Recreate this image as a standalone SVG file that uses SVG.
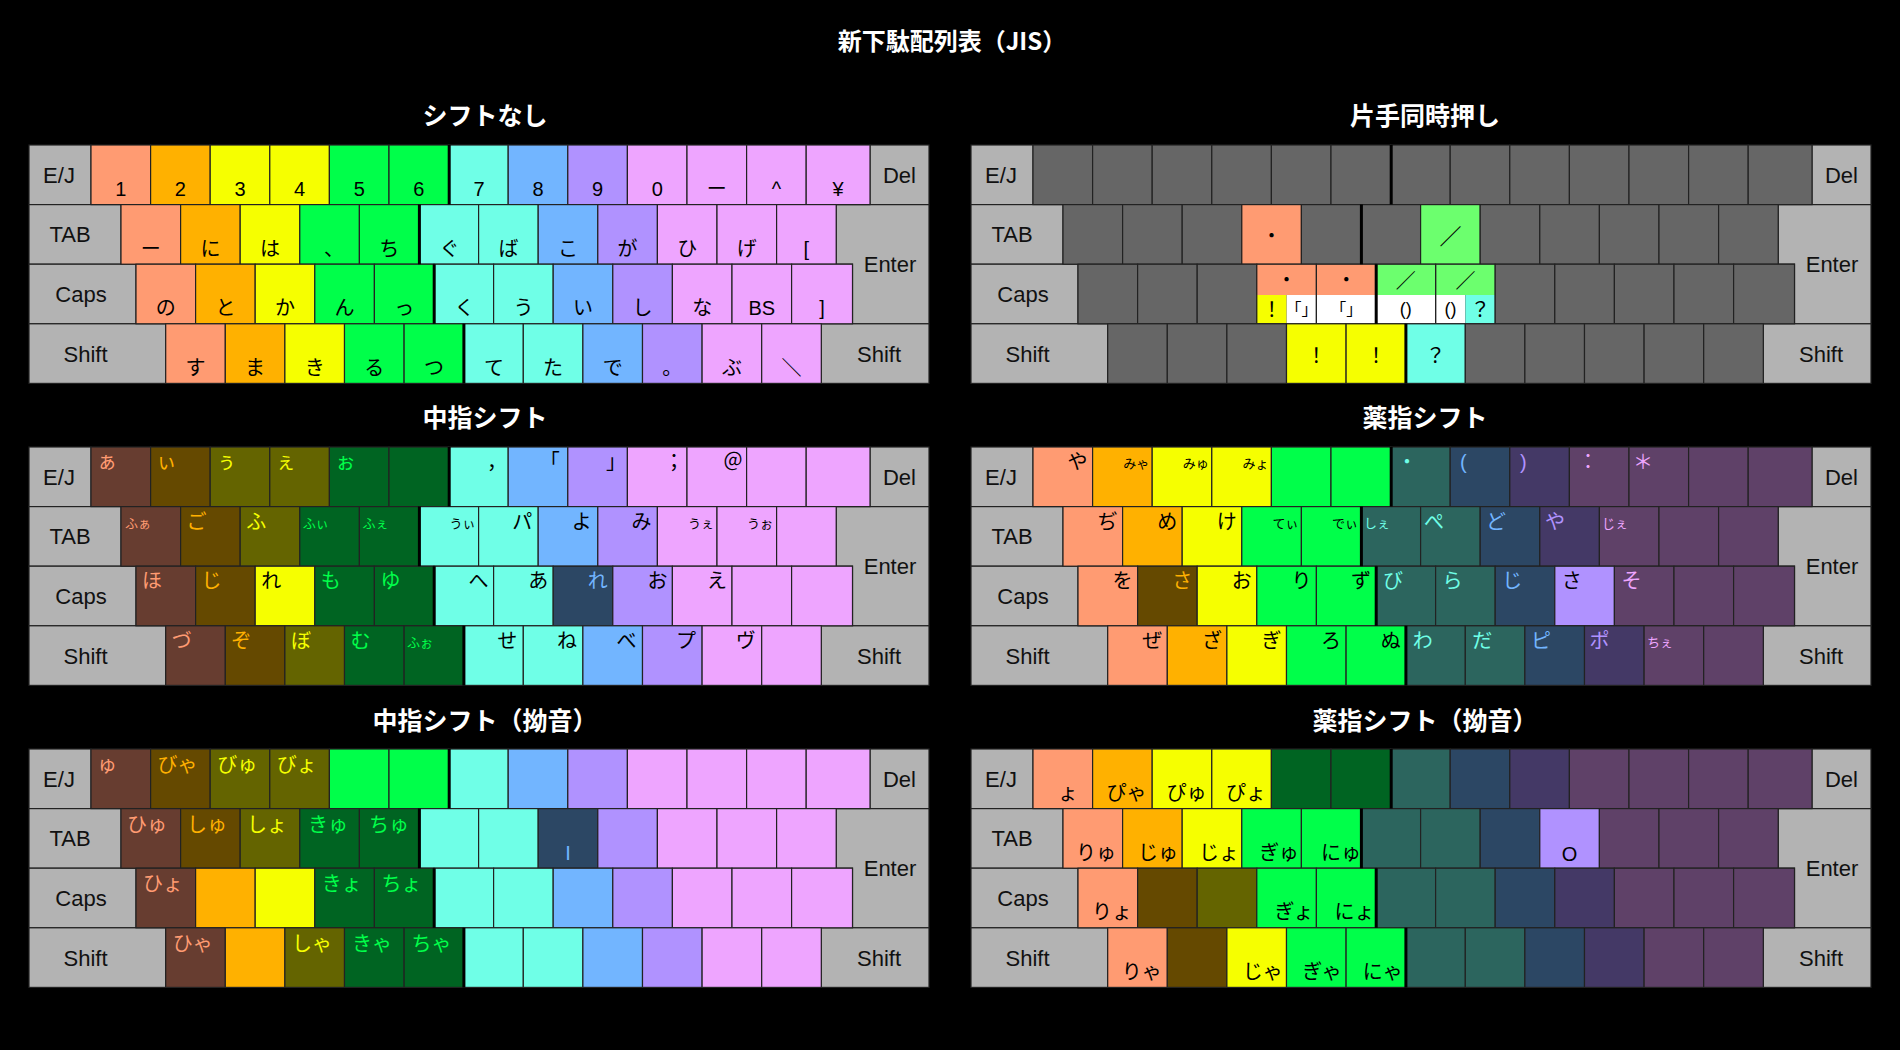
<svg xmlns="http://www.w3.org/2000/svg" xmlns:xlink="http://www.w3.org/1999/xlink" width="1900" height="1050" viewBox="0 0 1900 1050">
<style>
text{font-family:"Liberation Sans","Noto Sans CJK JP",sans-serif;font-size:20px;fill:#000}
.ml{font-size:22px;text-anchor:middle;fill:#111}
.m{text-anchor:middle}
.e{text-anchor:end}
.sm{font-size:13px}
.f16{font-size:16px}
.f18{font-size:18px}
.f22{font-size:22px}
.h{font-family:"Noto Sans CJK JP",sans-serif;font-weight:700;font-size:25px;fill:#fff;text-anchor:middle}
.ti{font-size:24px}
.md{fill:#b3b3b3}
.fs{fill:#ff9b72}.fo{fill:#ffb100}.fy{fill:#f6ff00}.fg{fill:#00ff4a}.fc{fill:#6fffe7}.fb{fill:#72b5ff}.fp{fill:#b092ff}.fk{fill:#eea5ff}
.ds{fill:#673d30}.do{fill:#654900}.dy{fill:#646400}.dg{fill:#006422}.dc{fill:#2c655e}.db{fill:#2c4764}.dp{fill:#443966}.dk{fill:#5f4168}
.gr{fill:#666666}.lg{fill:#6cff6e}.wh{fill:#ffffff}.nf{fill:none}
</style>
<defs>
<rect id="u" width="59.6" height="59.6" stroke="#222" stroke-width="1.2"/>
<rect id="yen" width="63.8" height="59.6" stroke="#222" stroke-width="1.2"/>
<rect id="rb" width="60.9" height="59.6" stroke="#222" stroke-width="1.2"/>
<g id="modk" fill="#b3b3b3" stroke="#222" stroke-width="1.2">
<rect width="62" height="59.6"/>
<rect x="841" width="59" height="59.6"/>
<rect y="59.6" width="92" height="59.6"/>
<path d="M807.2,59.6H900V178.8H823.5V119.2H807.2Z"/>
<rect y="119.2" width="107" height="59.6"/>
<rect y="178.8" width="136.7" height="59.6"/>
<rect x="792.3" y="178.8" width="107.7" height="59.6"/>
</g>
<path id="sep" d="M420.2 0V59.6M390.4 59.6V119.2M405.2 119.2V178.8M434.9 178.8V238.4" stroke="#000" stroke-width="3" fill="none"/>
</defs>
<rect width="1900" height="1050" fill="#000"/>
<text class="h ti" x="952" y="50">新下駄配列表（JIS）</text>
<text class="h" x="485" y="124.5">シフトなし</text>
<text class="h" x="1425" y="124.5">片手同時押し</text>
<text class="h" x="485" y="426.5">中指シフト</text>
<text class="h" x="1425" y="426.5">薬指シフト</text>
<text class="h" x="485" y="729.5">中指シフト（拗音）</text>
<text class="h" x="1425" y="729.5">薬指シフト（拗音）</text>

<!-- Keyboard 1: シフトなし -->
<g id="kb-noshift" transform="translate(29,145)">
<use href="#modk"/>
<g>
<use href="#u" x="62" class="fs"/><use href="#u" x="121.6" class="fo"/><use href="#u" x="181.2" class="fy"/><use href="#u" x="240.8" class="fy"/><use href="#u" x="300.4" class="fg"/><use href="#u" x="360" class="fg"/><use href="#u" x="419.6" class="fc"/><use href="#u" x="479.2" class="fb"/><use href="#u" x="538.8" class="fp"/><use href="#u" x="598.4" class="fk"/><use href="#u" x="658" class="fk"/><use href="#u" x="717.6" class="fk"/><use href="#yen" x="777.2" class="fk"/>
</g>
<g transform="translate(0,59.6)">
<use href="#u" x="92" class="fs"/><use href="#u" x="151.6" class="fo"/><use href="#u" x="211.2" class="fy"/><use href="#u" x="270.8" class="fg"/><use href="#u" x="330.4" class="fg"/><use href="#u" x="390" class="fc"/><use href="#u" x="449.6" class="fc"/><use href="#u" x="509.2" class="fb"/><use href="#u" x="568.8" class="fp"/><use href="#u" x="628.4" class="fk"/><use href="#u" x="688" class="fk"/><use href="#u" x="747.6" class="fk"/>
</g>
<g transform="translate(0,119.2)">
<use href="#u" x="107" class="fs"/><use href="#u" x="166.6" class="fo"/><use href="#u" x="226.2" class="fy"/><use href="#u" x="285.8" class="fg"/><use href="#u" x="345.4" class="fg"/><use href="#u" x="405" class="fc"/><use href="#u" x="464.6" class="fc"/><use href="#u" x="524.2" class="fb"/><use href="#u" x="583.8" class="fp"/><use href="#u" x="643.4" class="fk"/><use href="#u" x="703" class="fk"/><use href="#rb" x="762.6" class="fk"/>
</g>
<g transform="translate(0,178.8)">
<use href="#u" x="136.7" class="fs"/><use href="#u" x="196.3" class="fo"/><use href="#u" x="255.9" class="fy"/><use href="#u" x="315.5" class="fg"/><use href="#u" x="375.1" class="fg"/><use href="#u" x="434.7" class="fc"/><use href="#u" x="494.3" class="fc"/><use href="#u" x="553.9" class="fb"/><use href="#u" x="613.5" class="fp"/><use href="#u" x="673.1" class="fk"/><use href="#u" x="732.7" class="fk"/>
</g>
<use href="#sep"/>
<text class="ml" x="30" y="37.8">E/J</text><text class="ml" x="870.5" y="37.8">Del</text><text class="ml" x="41" y="97.4">TAB</text><text class="ml" x="861" y="127.2">Enter</text><text class="ml" x="52" y="157">Caps</text><text class="ml" x="56.5" y="216.6">Shift</text><text class="ml" x="850" y="216.6">Shift</text>
<text class="m" x="91.8" y="51">1</text><text class="m" x="151.4" y="51">2</text><text class="m" x="211" y="51">3</text><text class="m" x="270.6" y="51">4</text><text class="m" x="330.2" y="51">5</text><text class="m" x="389.8" y="51">6</text><text class="m" x="450" y="51">7</text><text class="m" x="509" y="51">8</text><text class="m" x="568.6" y="51">9</text><text class="m" x="628.2" y="51">0</text><text class="m" x="687.8" y="51">ー</text><text class="m" x="747.4" y="51">^</text><text class="m" x="809.1" y="51">¥</text>
<text class="m" x="121.8" y="110.6">ー</text><text class="m" x="181.4" y="110.6">に</text><text class="m" x="241" y="110.6">は</text><text class="m" x="305" y="110.6">、</text><text class="m" x="360.2" y="110.6">ち</text><text class="m" x="420.5" y="110.6">ぐ</text><text class="m" x="479.4" y="110.6">ば</text><text class="m" x="539" y="110.6">こ</text><text class="m" x="598.6" y="110.6">が</text><text class="m" x="658.2" y="110.6">ひ</text><text class="m" x="717.8" y="110.6">げ</text><text class="m" x="777.4" y="110.6">[</text>
<text class="m" x="136.8" y="170.2">の</text><text class="m" x="196.4" y="170.2">と</text><text class="m" x="256" y="170.2">か</text><text class="m" x="315.6" y="170.2">ん</text><text class="m" x="375.2" y="170.2">っ</text><text class="m" x="435.5" y="170.2">く</text><text class="m" x="494.4" y="170.2">う</text><text class="m" x="554" y="170.2">い</text><text class="m" x="613.6" y="170.2">し</text><text class="m" x="673.2" y="170.2">な</text><text class="m" x="732.8" y="170.2">BS</text><text class="m" x="793" y="170.2">]</text>
<text class="m" x="166.5" y="229.8">す</text><text class="m" x="226.1" y="229.8">ま</text><text class="m" x="285.7" y="229.8">き</text><text class="m" x="345.3" y="229.8">る</text><text class="m" x="404.9" y="229.8">つ</text><text class="m" x="465" y="229.8">て</text><text class="m" x="524.1" y="229.8">た</text><text class="m" x="583.7" y="229.8">で</text><text class="m" x="643.3" y="229.8">。</text><text class="m" x="702.9" y="229.8">ぶ</text><text class="m" x="762.5" y="229.8">＼</text>
</g>

<!-- Keyboard 2: 片手同時押し -->
<g id="kb-onehand" transform="translate(971,145)">
<use href="#modk"/>
<g>
<use href="#u" x="62" class="gr"/><use href="#u" x="121.6" class="gr"/><use href="#u" x="181.2" class="gr"/><use href="#u" x="240.8" class="gr"/><use href="#u" x="300.4" class="gr"/><use href="#u" x="360" class="gr"/><use href="#u" x="419.6" class="gr"/><use href="#u" x="479.2" class="gr"/><use href="#u" x="538.8" class="gr"/><use href="#u" x="598.4" class="gr"/><use href="#u" x="658" class="gr"/><use href="#u" x="717.6" class="gr"/><use href="#yen" x="777.2" class="gr"/>
</g>
<g transform="translate(0,59.6)">
<use href="#u" x="92" class="gr"/><use href="#u" x="151.6" class="gr"/><use href="#u" x="211.2" class="gr"/><use href="#u" x="270.8" class="fs"/><use href="#u" x="330.4" class="gr"/><use href="#u" x="390" class="gr"/><use href="#u" x="449.6" class="lg"/><use href="#u" x="509.2" class="gr"/><use href="#u" x="568.8" class="gr"/><use href="#u" x="628.4" class="gr"/><use href="#u" x="688" class="gr"/><use href="#u" x="747.6" class="gr"/>
</g>
<g transform="translate(0,119.2)">
<use href="#u" x="107" class="gr"/><use href="#u" x="166.6" class="gr"/><use href="#u" x="226.2" class="gr"/>
<rect x="285.8" y="0" width="59.6" height="30.8" class="fs"/><rect x="285.8" y="30.8" width="29.8" height="28.8" class="fy"/><rect x="315.6" y="30.8" width="29.8" height="28.8" class="wh"/>
<rect x="345.4" y="0" width="59.6" height="30.8" class="fs"/><rect x="345.4" y="30.8" width="59.6" height="28.8" class="wh"/>
<rect x="405" y="0" width="59.6" height="30.8" class="lg"/><rect x="405" y="30.8" width="59.6" height="28.8" class="wh"/>
<rect x="464.6" y="0" width="59.6" height="30.8" class="lg"/><rect x="464.6" y="30.8" width="29.8" height="28.8" class="wh"/><rect x="494.4" y="30.8" width="29.8" height="28.8" class="fc"/>
<use href="#u" x="285.8" class="nf"/><use href="#u" x="345.4" class="nf"/><use href="#u" x="405" class="nf"/><use href="#u" x="464.6" class="nf"/>
<use href="#u" x="524.2" class="gr"/><use href="#u" x="583.8" class="gr"/><use href="#u" x="643.4" class="gr"/><use href="#u" x="703" class="gr"/><use href="#rb" x="762.6" class="gr"/>
</g>
<g transform="translate(0,178.8)">
<use href="#u" x="136.7" class="gr"/><use href="#u" x="196.3" class="gr"/><use href="#u" x="255.9" class="gr"/><use href="#u" x="315.5" class="fy"/><use href="#u" x="375.1" class="fy"/><use href="#u" x="434.7" class="fc"/><use href="#u" x="494.3" class="gr"/><use href="#u" x="553.9" class="gr"/><use href="#u" x="613.5" class="gr"/><use href="#u" x="673.1" class="gr"/><use href="#u" x="732.7" class="gr"/>
</g>
<use href="#sep"/>
<text class="ml" x="30" y="37.8">E/J</text><text class="ml" x="870.5" y="37.8">Del</text><text class="ml" x="41" y="97.4">TAB</text><text class="ml" x="861" y="127.2">Enter</text><text class="ml" x="52" y="157">Caps</text><text class="ml" x="56.5" y="216.6">Shift</text><text class="ml" x="850" y="216.6">Shift</text>
<text class="m" x="300.6" y="97.6">・</text><text class="m f22" x="479.4" y="98.5">／</text>
<text class="m" x="315.6" y="142.4">・</text><text class="m" x="375.2" y="142.4">・</text><text class="m" x="434.8" y="143">／</text><text class="m" x="494.4" y="143">／</text>
<text class="m" x="300.7" y="171.5">！</text><text class="m f16" x="330.5" y="170">「」</text><text class="m f16" x="375.2" y="170">「」</text><text class="m f18" x="434.8" y="169.5">()</text><text class="m f18" x="479.5" y="169.5">()</text><text class="m" x="509.3" y="171.5">？</text>
<text class="m" x="345.3" y="218">！</text><text class="m" x="404.9" y="218">！</text><text class="m" x="464.5" y="218">？</text>
</g>

<!-- Keyboard 3: 中指シフト -->
<g id="kb-middle" transform="translate(29,447)">
<use href="#modk"/>
<g>
<use href="#u" x="62" class="ds"/><use href="#u" x="121.6" class="do"/><use href="#u" x="181.2" class="dy"/><use href="#u" x="240.8" class="dy"/><use href="#u" x="300.4" class="dg"/><use href="#u" x="360" class="dg"/><use href="#u" x="419.6" class="fc"/><use href="#u" x="479.2" class="fb"/><use href="#u" x="538.8" class="fp"/><use href="#u" x="598.4" class="fk"/><use href="#u" x="658" class="fk"/><use href="#u" x="717.6" class="fk"/><use href="#yen" x="777.2" class="fk"/>
</g>
<g transform="translate(0,59.6)">
<use href="#u" x="92" class="ds"/><use href="#u" x="151.6" class="do"/><use href="#u" x="211.2" class="dy"/><use href="#u" x="270.8" class="dg"/><use href="#u" x="330.4" class="dg"/><use href="#u" x="390" class="fc"/><use href="#u" x="449.6" class="fc"/><use href="#u" x="509.2" class="fb"/><use href="#u" x="568.8" class="fp"/><use href="#u" x="628.4" class="fk"/><use href="#u" x="688" class="fk"/><use href="#u" x="747.6" class="fk"/>
</g>
<g transform="translate(0,119.2)">
<use href="#u" x="107" class="ds"/><use href="#u" x="166.6" class="do"/><use href="#u" x="226.2" class="fy"/><use href="#u" x="285.8" class="dg"/><use href="#u" x="345.4" class="dg"/><use href="#u" x="405" class="fc"/><use href="#u" x="464.6" class="fc"/><use href="#u" x="524.2" class="db"/><use href="#u" x="583.8" class="fp"/><use href="#u" x="643.4" class="fk"/><use href="#u" x="703" class="fk"/><use href="#rb" x="762.6" class="fk"/>
</g>
<g transform="translate(0,178.8)">
<use href="#u" x="136.7" class="ds"/><use href="#u" x="196.3" class="do"/><use href="#u" x="255.9" class="dy"/><use href="#u" x="315.5" class="dg"/><use href="#u" x="375.1" class="dg"/><use href="#u" x="434.7" class="fc"/><use href="#u" x="494.3" class="fc"/><use href="#u" x="553.9" class="fb"/><use href="#u" x="613.5" class="fp"/><use href="#u" x="673.1" class="fk"/><use href="#u" x="732.7" class="fk"/>
</g>
<use href="#sep"/>
<text class="ml" x="30" y="37.8">E/J</text><text class="ml" x="870.5" y="37.8">Del</text><text class="ml" x="41" y="97.4">TAB</text><text class="ml" x="861" y="127.2">Enter</text><text class="ml" x="52" y="157">Caps</text><text class="ml" x="56.5" y="216.6">Shift</text><text class="ml" x="850" y="216.6">Shift</text>
<text class="fs" x="68" y="22">ぁ</text><text class="fo" x="127.6" y="22">ぃ</text><text class="fy" x="187.2" y="22">ぅ</text><text class="fy" x="246.8" y="22">ぇ</text><text class="fg" x="306.4" y="22">ぉ</text>
<text class="e" x="478" y="22">，</text><text class="e" x="530.8" y="22">「</text><text class="e" x="597" y="22">」</text><text class="e" x="655" y="22">；</text><text class="e" x="714" y="22">＠</text>
<text class="fs sm" x="96" y="80.6">ふぁ</text><text class="fo" x="157.6" y="81.6">ご</text><text class="fy" x="217.2" y="81.6">ふ</text><text class="fg sm" x="273.8" y="80.6">ふぃ</text><text class="fg sm" x="333.4" y="80.6">ふぇ</text>
<text class="e sm" x="446.6" y="80.6">うぃ</text><text class="e" x="503.2" y="81.6">パ</text><text class="e" x="562.8" y="81.6">よ</text><text class="e" x="622.4" y="81.6">み</text><text class="e sm" x="685" y="80.6">うぇ</text><text class="e sm" x="744" y="80.6">うぉ</text>
<text class="fs" x="113" y="141.2">ほ</text><text class="fo" x="172.6" y="141.2">じ</text><text x="232.2" y="141.2">れ</text><text class="fg" x="291.8" y="141.2">も</text><text class="fg" x="351.4" y="141.2">ゆ</text>
<text class="e" x="459.6" y="141.2">へ</text><text class="e" x="519.2" y="141.2">あ</text><text class="e fb" x="578.8" y="141.2">れ</text><text class="e" x="638.4" y="141.2">お</text><text class="e" x="698" y="141.2">え</text>
<text class="fs" x="142.7" y="200.8">づ</text><text class="fo" x="202.3" y="200.8">ぞ</text><text class="fy" x="261.9" y="200.8">ぼ</text><text class="fg" x="321.5" y="200.8">む</text><text class="fg sm" x="378.1" y="199.8">ふぉ</text>
<text class="e" x="488.3" y="200.8">せ</text><text class="e" x="547.9" y="200.8">ね</text><text class="e" x="607.5" y="200.8">べ</text><text class="e" x="667.1" y="200.8">プ</text><text class="e" x="726.7" y="200.8">ヴ</text>
</g>

<!-- Keyboard 4: 薬指シフト -->
<g id="kb-ring" transform="translate(971,447)">
<use href="#modk"/>
<g>
<use href="#u" x="62" class="fs"/><use href="#u" x="121.6" class="fo"/><use href="#u" x="181.2" class="fy"/><use href="#u" x="240.8" class="fy"/><use href="#u" x="300.4" class="fg"/><use href="#u" x="360" class="fg"/><use href="#u" x="419.6" class="dc"/><use href="#u" x="479.2" class="db"/><use href="#u" x="538.8" class="dp"/><use href="#u" x="598.4" class="dk"/><use href="#u" x="658" class="dk"/><use href="#u" x="717.6" class="dk"/><use href="#yen" x="777.2" class="dk"/>
</g>
<g transform="translate(0,59.6)">
<use href="#u" x="92" class="fs"/><use href="#u" x="151.6" class="fo"/><use href="#u" x="211.2" class="fy"/><use href="#u" x="270.8" class="fg"/><use href="#u" x="330.4" class="fg"/><use href="#u" x="390" class="dc"/><use href="#u" x="449.6" class="dc"/><use href="#u" x="509.2" class="db"/><use href="#u" x="568.8" class="dp"/><use href="#u" x="628.4" class="dk"/><use href="#u" x="688" class="dk"/><use href="#u" x="747.6" class="dk"/>
</g>
<g transform="translate(0,119.2)">
<use href="#u" x="107" class="fs"/><use href="#u" x="166.6" class="do"/><use href="#u" x="226.2" class="fy"/><use href="#u" x="285.8" class="fg"/><use href="#u" x="345.4" class="fg"/><use href="#u" x="405" class="dc"/><use href="#u" x="464.6" class="dc"/><use href="#u" x="524.2" class="db"/><use href="#u" x="583.8" class="fp"/><use href="#u" x="643.4" class="dk"/><use href="#u" x="703" class="dk"/><use href="#rb" x="762.6" class="dk"/>
</g>
<g transform="translate(0,178.8)">
<use href="#u" x="136.7" class="fs"/><use href="#u" x="196.3" class="fo"/><use href="#u" x="255.9" class="fy"/><use href="#u" x="315.5" class="fg"/><use href="#u" x="375.1" class="fg"/><use href="#u" x="434.7" class="dc"/><use href="#u" x="494.3" class="dc"/><use href="#u" x="553.9" class="db"/><use href="#u" x="613.5" class="dp"/><use href="#u" x="673.1" class="dk"/><use href="#u" x="732.7" class="dk"/>
</g>
<use href="#sep"/>
<text class="ml" x="30" y="37.8">E/J</text><text class="ml" x="870.5" y="37.8">Del</text><text class="ml" x="41" y="97.4">TAB</text><text class="ml" x="861" y="127.2">Enter</text><text class="ml" x="52" y="157">Caps</text><text class="ml" x="56.5" y="216.6">Shift</text><text class="ml" x="850" y="216.6">Shift</text>
<text class="e" x="116.6" y="22">や</text><text class="e sm" x="178.2" y="21">みゃ</text><text class="e sm" x="237.8" y="21">みゅ</text><text class="e sm" x="297.4" y="21">みょ</text>
<text class="fc" x="426" y="22">・</text><text class="fb" x="489" y="22">(</text><text class="fp" x="549" y="22">)</text><text class="fk" x="607" y="22">：</text><text class="fk" x="662" y="22">＊</text>
<text class="e" x="146.6" y="81.6">ぢ</text><text class="e" x="206.2" y="81.6">め</text><text class="e" x="265.8" y="81.6">け</text><text class="e sm" x="327.4" y="80.6">てぃ</text><text class="e sm" x="387" y="80.6">でぃ</text>
<text class="fc sm" x="393" y="80.6">しぇ</text><text class="fc" x="453" y="81.6">ぺ</text><text class="fb" x="515" y="81.6">ど</text><text class="fp" x="574" y="81.6">や</text><text class="fk sm" x="631" y="80.6">じぇ</text>
<text class="e" x="161.6" y="141.2">を</text><text class="e fo" x="221.2" y="141.2">さ</text><text class="e" x="280.8" y="141.2">お</text><text class="e" x="340.4" y="141.2">り</text><text class="e" x="400" y="141.2">ず</text>
<text class="fc" x="412" y="141.2">び</text><text class="fc" x="471.6" y="141.2">ら</text><text class="fb" x="531.2" y="141.2">じ</text><text x="590.8" y="141.2">さ</text><text class="fk" x="650.4" y="141.2">そ</text>
<text class="e" x="191.3" y="200.8">ぜ</text><text class="e" x="250.9" y="200.8">ざ</text><text class="e" x="310.5" y="200.8">ぎ</text><text class="e" x="370.1" y="200.8">ろ</text><text class="e" x="429.7" y="200.8">ぬ</text>
<text class="fc" x="441.7" y="200.8">わ</text><text class="fc" x="501.3" y="200.8">だ</text><text class="fb" x="559.9" y="200.8">ピ</text><text class="fp" x="618.5" y="200.8">ポ</text><text class="fk sm" x="676" y="199.8">ちぇ</text>
</g>

<!-- Keyboard 5: 中指シフト（拗音） -->
<g id="kb-middle-youon" transform="translate(29,749)">
<use href="#modk"/>
<g>
<use href="#u" x="62" class="ds"/><use href="#u" x="121.6" class="do"/><use href="#u" x="181.2" class="dy"/><use href="#u" x="240.8" class="dy"/><use href="#u" x="300.4" class="fg"/><use href="#u" x="360" class="fg"/><use href="#u" x="419.6" class="fc"/><use href="#u" x="479.2" class="fb"/><use href="#u" x="538.8" class="fp"/><use href="#u" x="598.4" class="fk"/><use href="#u" x="658" class="fk"/><use href="#u" x="717.6" class="fk"/><use href="#yen" x="777.2" class="fk"/>
</g>
<g transform="translate(0,59.6)">
<use href="#u" x="92" class="ds"/><use href="#u" x="151.6" class="do"/><use href="#u" x="211.2" class="dy"/><use href="#u" x="270.8" class="dg"/><use href="#u" x="330.4" class="dg"/><use href="#u" x="390" class="fc"/><use href="#u" x="449.6" class="fc"/><use href="#u" x="509.2" class="db"/><use href="#u" x="568.8" class="fp"/><use href="#u" x="628.4" class="fk"/><use href="#u" x="688" class="fk"/><use href="#u" x="747.6" class="fk"/>
</g>
<g transform="translate(0,119.2)">
<use href="#u" x="107" class="ds"/><use href="#u" x="166.6" class="fo"/><use href="#u" x="226.2" class="fy"/><use href="#u" x="285.8" class="dg"/><use href="#u" x="345.4" class="dg"/><use href="#u" x="405" class="fc"/><use href="#u" x="464.6" class="fc"/><use href="#u" x="524.2" class="fb"/><use href="#u" x="583.8" class="fp"/><use href="#u" x="643.4" class="fk"/><use href="#u" x="703" class="fk"/><use href="#rb" x="762.6" class="fk"/>
</g>
<g transform="translate(0,178.8)">
<use href="#u" x="136.7" class="ds"/><use href="#u" x="196.3" class="fo"/><use href="#u" x="255.9" class="dy"/><use href="#u" x="315.5" class="dg"/><use href="#u" x="375.1" class="dg"/><use href="#u" x="434.7" class="fc"/><use href="#u" x="494.3" class="fc"/><use href="#u" x="553.9" class="fb"/><use href="#u" x="613.5" class="fp"/><use href="#u" x="673.1" class="fk"/><use href="#u" x="732.7" class="fk"/>
</g>
<use href="#sep"/>
<text class="ml" x="30" y="37.8">E/J</text><text class="ml" x="870.5" y="37.8">Del</text><text class="ml" x="41" y="97.4">TAB</text><text class="ml" x="861" y="127.2">Enter</text><text class="ml" x="52" y="157">Caps</text><text class="ml" x="56.5" y="216.6">Shift</text><text class="ml" x="850" y="216.6">Shift</text>
<text class="fs" x="68" y="23">ゅ</text><text class="fo" x="128.6" y="23">びゃ</text><text class="fy" x="188.2" y="23">びゅ</text><text class="fy" x="247.8" y="23">びょ</text>
<text class="fs" x="98" y="82.6">ひゅ</text><text class="fo" x="158" y="82.6">しゅ</text><text class="fy" x="218" y="82.6">しょ</text><text class="fg" x="279" y="82.6">きゅ</text><text class="fg" x="340" y="82.6">ちゅ</text><text class="fb m" x="539" y="110.6">I</text>
<text class="fs" x="114" y="142.2">ひょ</text><text class="fg" x="292.8" y="142.2">きょ</text><text class="fg" x="352.4" y="142.2">ちょ</text>
<text class="fs" x="143.7" y="201.8">ひゃ</text><text class="fy" x="262.9" y="201.8">しゃ</text><text class="fg" x="323" y="201.8">きゃ</text><text class="fg" x="382.5" y="201.8">ちゃ</text>
</g>

<!-- Keyboard 6: 薬指シフト（拗音） -->
<g id="kb-ring-youon" transform="translate(971,749)">
<use href="#modk"/>
<g>
<use href="#u" x="62" class="fs"/><use href="#u" x="121.6" class="fo"/><use href="#u" x="181.2" class="fy"/><use href="#u" x="240.8" class="fy"/><use href="#u" x="300.4" class="dg"/><use href="#u" x="360" class="dg"/><use href="#u" x="419.6" class="dc"/><use href="#u" x="479.2" class="db"/><use href="#u" x="538.8" class="dp"/><use href="#u" x="598.4" class="dk"/><use href="#u" x="658" class="dk"/><use href="#u" x="717.6" class="dk"/><use href="#yen" x="777.2" class="dk"/>
</g>
<g transform="translate(0,59.6)">
<use href="#u" x="92" class="fs"/><use href="#u" x="151.6" class="fo"/><use href="#u" x="211.2" class="fy"/><use href="#u" x="270.8" class="fg"/><use href="#u" x="330.4" class="fg"/><use href="#u" x="390" class="dc"/><use href="#u" x="449.6" class="dc"/><use href="#u" x="509.2" class="db"/><use href="#u" x="568.8" class="fp"/><use href="#u" x="628.4" class="dk"/><use href="#u" x="688" class="dk"/><use href="#u" x="747.6" class="dk"/>
</g>
<g transform="translate(0,119.2)">
<use href="#u" x="107" class="fs"/><use href="#u" x="166.6" class="do"/><use href="#u" x="226.2" class="dy"/><use href="#u" x="285.8" class="fg"/><use href="#u" x="345.4" class="fg"/><use href="#u" x="405" class="dc"/><use href="#u" x="464.6" class="dc"/><use href="#u" x="524.2" class="db"/><use href="#u" x="583.8" class="dp"/><use href="#u" x="643.4" class="dk"/><use href="#u" x="703" class="dk"/><use href="#rb" x="762.6" class="dk"/>
</g>
<g transform="translate(0,178.8)">
<use href="#u" x="136.7" class="fs"/><use href="#u" x="196.3" class="do"/><use href="#u" x="255.9" class="fy"/><use href="#u" x="315.5" class="fg"/><use href="#u" x="375.1" class="fg"/><use href="#u" x="434.7" class="dc"/><use href="#u" x="494.3" class="dc"/><use href="#u" x="553.9" class="db"/><use href="#u" x="613.5" class="dp"/><use href="#u" x="673.1" class="dk"/><use href="#u" x="732.7" class="dk"/>
</g>
<use href="#sep"/>
<text class="ml" x="30" y="37.8">E/J</text><text class="ml" x="870.5" y="37.8">Del</text><text class="ml" x="41" y="97.4">TAB</text><text class="ml" x="861" y="127.2">Enter</text><text class="ml" x="52" y="157">Caps</text><text class="ml" x="56.5" y="216.6">Shift</text><text class="ml" x="850" y="216.6">Shift</text>
<text class="m" x="97" y="51">ょ</text><text class="m" x="155.5" y="51">ぴゃ</text><text class="m" x="215.5" y="51">ぴゅ</text><text class="m" x="275" y="51">ぴょ</text>
<text class="m" x="125" y="110.6">りゅ</text><text class="m" x="187" y="110.6">じゅ</text><text class="m" x="248" y="110.6">じょ</text><text class="m" x="308" y="110.6">ぎゅ</text><text class="m" x="370" y="110.6">にゅ</text><text class="m" x="598.6" y="111.6">O</text>
<text class="m" x="141" y="170.2">りょ</text><text class="m" x="323" y="170.2">ぎょ</text><text class="m" x="383.5" y="170.2">にょ</text>
<text class="m" x="170.7" y="229.8">りゃ</text><text class="m" x="291.8" y="229.8">じゃ</text><text class="m" x="351" y="229.8">ぎゃ</text><text class="m" x="411.8" y="229.8">にゃ</text>
</g>
</svg>
